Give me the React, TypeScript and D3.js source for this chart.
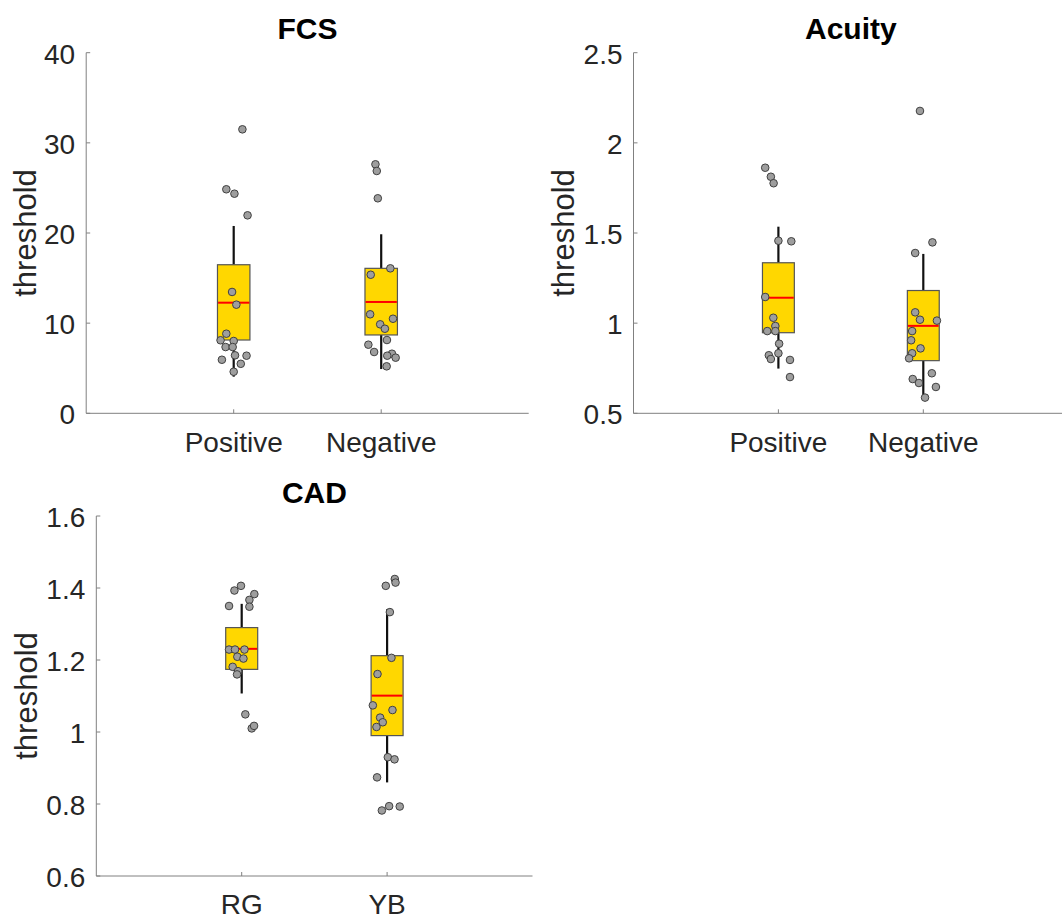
import React from "react";
import * as d3 from "d3";

// ---------- FCS ----------
const fcsCategories = ["Positive", "Negative"];
const fcsTicks = [0, 10, 20, 30, 40];
const fcsPositive = [31.5, 24.85, 24.36, 21.96, 13.46, 12.05, 8.83, 8.1, 8.02, 7.35, 7.35, 6.43, 6.39, 5.94, 5.49, 4.61];
const fcsPositiveJitter = [0.059, -0.05, 0.005, 0.094, -0.011, 0.018, -0.05, -0.089, 0, -0.055, -0.007, 0.009, 0.087, -0.08, 0.048, 0];
const fcsNegative = [27.62, 26.88, 23.85, 16.08, 15.37, 10.98, 9.87, 10.49, 9.38, 8.13, 7.61, 6.8, 6.61, 6.39, 6.17, 5.21];
const fcsNegativeJitter = [-0.039, -0.03, -0.023, 0.062, -0.071, -0.075, -0.007, 0.08, 0.025, 0.039, -0.087, -0.048, 0.073, 0.041, 0.098, 0.037];
const fcsQ1 = [8.13, 8.69];
const fcsMedian = [12.27, 12.35];
const fcsQ3 = [16.48, 16.08];
const fcsWhiskerLow = [4.06, 4.91];
const fcsWhiskerHigh = [20.78, 19.86];

// ---------- Acuity ----------
const acuityCategories = ["Positive", "Negative"];
const acuityTicks = [0.5, 1, 1.5, 2, 2.5];
const acuityPositive = [1.862, 1.812, 1.776, 1.457, 1.454, 1.145, 1.03, 0.984, 0.956, 0.956, 0.886, 0.822, 0.833, 0.801, 0.796, 0.701];
const acuityPositiveJitter = [-0.091, -0.052, -0.033, 0, 0.089, -0.091, -0.035, -0.021, -0.077, -0.021, 0.005, -0.066, 0, -0.052, 0.08, 0.08];
const acuityNegative = [2.177, 1.448, 1.389, 1.06, 1.019, 1.014, 0.956, 0.905, 0.86, 0.833, 0.805, 0.69, 0.722, 0.668, 0.646, 0.587];
const acuityNegativeJitter = [-0.023, 0.063, -0.056, -0.056, -0.023, 0.094, -0.077, -0.084, -0.019, -0.077, -0.098, -0.073, 0.059, -0.03, 0.087, 0.012];
const acuityQ1 = [0.947, 0.792];
const acuityMedian = [1.141, 0.985];
const acuityQ3 = [1.335, 1.181];
const acuityWhiskerLow = [0.748, 0.592];
const acuityWhiskerHigh = [1.535, 1.384];

// ---------- CAD ----------
const cadCategories = ["RG", "YB"];
const cadTicks = [0.6, 0.8, 1, 1.2, 1.4, 1.6];
const cadRG = [1.406, 1.393, 1.383, 1.367, 1.35, 1.348, 1.229, 1.229, 1.229, 1.209, 1.204, 1.181, 1.169, 1.16, 1.049, 1.01, 1.017];
const cadRGJitter = [-0.005, -0.05, 0.087, 0.053, -0.087, 0.053, -0.087, -0.046, 0.019, -0.03, 0.012, -0.062, -0.025, -0.032, 0.025, 0.069, 0.085];
const cadYB = [1.425, 1.415, 1.406, 1.333, 1.206, 1.161, 1.074, 1.061, 1.04, 1.027, 1.014, 0.93, 0.924, 0.874, 0.782, 0.794, 0.793];
const cadYBJitter = [0.053, 0.058, -0.009, 0.019, 0.03, -0.066, -0.098, 0.037, -0.048, -0.03, -0.073, 0.005, 0.051, -0.069, -0.036, 0.014, 0.087];
const cadQ1 = [1.174, 0.99];
const cadMedian = [1.231, 1.101];
const cadQ3 = [1.29, 1.212];
const cadWhiskerLow = [1.107, 0.86];
const cadWhiskerHigh = [1.356, 1.341];

const FONT = "'Liberation Sans', Arial, Helvetica, sans-serif";
const TEXT = "#262626";

type PanelDef = {
  title: string;
  box: { left: number; right: number; top: number; bottom: number };
  labelOffset: number;
  yDomain: [number, number];
  yTicks: number[];
  categories: string[];
  values: number[][];
  jitter: number[][];
  q1: number[];
  median: number[];
  q3: number[];
  wLow: number[];
  wHigh: number[];
};

const panels: PanelDef[] = [
  {
    title: "FCS",
    box: { left: 86.2, right: 528.7, top: 52.7, bottom: 413.3 },
    labelOffset: 50.7,
    yDomain: [0, 40],
    yTicks: fcsTicks,
    categories: fcsCategories,
    values: [fcsPositive, fcsNegative],
    jitter: [fcsPositiveJitter, fcsNegativeJitter],
    q1: fcsQ1, median: fcsMedian, q3: fcsQ3, wLow: fcsWhiskerLow, wHigh: fcsWhiskerHigh,
  },
  {
    title: "Acuity",
    box: { left: 633.5, right: 1068.2, top: 52.7, bottom: 413.3 },
    labelOffset: 59.5,
    yDomain: [0.5, 2.5],
    yTicks: acuityTicks,
    categories: acuityCategories,
    values: [acuityPositive, acuityNegative],
    jitter: [acuityPositiveJitter, acuityNegativeJitter],
    q1: acuityQ1, median: acuityMedian, q3: acuityQ3, wLow: acuityWhiskerLow, wHigh: acuityWhiskerHigh,
  },
  {
    title: "CAD",
    box: { left: 96.3, right: 532.5, top: 516, bottom: 876 },
    labelOffset: 59.2,
    yDomain: [0.6, 1.6],
    yTicks: cadTicks,
    categories: cadCategories,
    values: [cadRG, cadYB],
    jitter: [cadRGJitter, cadYBJitter],
    q1: cadQ1, median: cadMedian, q3: cadQ3, wLow: cadWhiskerLow, wHigh: cadWhiskerHigh,
  },
];

function Panel({ p }: { p: PanelDef }) {
  const { left, right, top, bottom } = p.box;
  const x = d3.scaleLinear().domain([0, 3]).range([left, right]);
  const y = d3.scaleLinear().domain(p.yDomain).range([bottom, top]);
  const halfW = 0.11;
  const cx = (i: number) => i + 1;
  return (
    <g>
      {/* axes */}
      <line x1={left} x2={left} y1={top} y2={bottom} stroke="#808080" strokeWidth={1} />
      <line x1={left} x2={right} y1={bottom} y2={bottom} stroke="#808080" strokeWidth={1} />
      {p.yTicks.map((t) => (
        <g key={"yt" + t}>
          <line x1={left} x2={left + 4} y1={y(t)} y2={y(t)} stroke="#808080" strokeWidth={1} />
          <text x={left - 11} y={y(t) + 11} textAnchor="end" fontSize={28} fill={TEXT} fontFamily={FONT}>
            {String(t)}
          </text>
        </g>
      ))}
      {p.categories.map((c, i) => (
        <g key={"xt" + c}>
          <line x1={x(cx(i))} x2={x(cx(i))} y1={bottom} y2={bottom - 4} stroke="#808080" strokeWidth={1} />
          <text x={x(cx(i))} y={bottom + 38.4} textAnchor="middle" fontSize={28} fill={TEXT} fontFamily={FONT}>
            {c}
          </text>
        </g>
      ))}
      <text
        transform={`translate(${left - p.labelOffset},${(top + bottom) / 2}) rotate(-90)`}
        textAnchor="middle"
        fontSize={31}
        fill={TEXT}
        fontFamily={FONT}
      >
        threshold
      </text>
      <text x={x(1.5)} y={top - 13.5} textAnchor="middle" fontSize={30} fontWeight="bold" fill="#000" fontFamily={FONT}>
        {p.title}
      </text>
      {/* boxes */}
      {p.categories.map((c, i) => (
        <g key={"box" + c}>
          <line x1={x(cx(i))} x2={x(cx(i))} y1={y(p.q3[i])} y2={y(p.wHigh[i])} stroke="#111" strokeWidth={2.2} />
          <line x1={x(cx(i))} x2={x(cx(i))} y1={y(p.q1[i])} y2={y(p.wLow[i])} stroke="#111" strokeWidth={2.2} />
          <rect
            x={x(cx(i) - halfW)}
            y={y(p.q3[i])}
            width={x(cx(i) + halfW) - x(cx(i) - halfW)}
            height={y(p.q1[i]) - y(p.q3[i])}
            fill="#FFD700"
            stroke="#555555"
            strokeWidth={1.2}
          />
          <line x1={x(cx(i) - halfW) + 0.6} x2={x(cx(i) + halfW) - 0.6} y1={y(p.median[i])} y2={y(p.median[i])} stroke="#FF0000" strokeWidth={2} />
        </g>
      ))}
      {/* points */}
      {p.values.map((vals, i) =>
        vals.map((v, j) => (
          <circle
            key={`pt${i}-${j}`}
            cx={x(cx(i) + p.jitter[i][j])}
            cy={y(v)}
            r={3.8}
            fill="#9E9E9E"
            stroke="#404040"
            strokeWidth={1}
          />
        ))
      )}
    </g>
  );
}

export default function App() {
  return (
    <svg
      width={1062}
      height={918}
      style={{ position: "absolute", left: 0, top: 0, background: "#fff" }}
    >
      <rect x={0} y={0} width={1062} height={918} fill="#fff" />
      {panels.map((p) => (
        <Panel key={p.title} p={p} />
      ))}
    </svg>
  );
}
